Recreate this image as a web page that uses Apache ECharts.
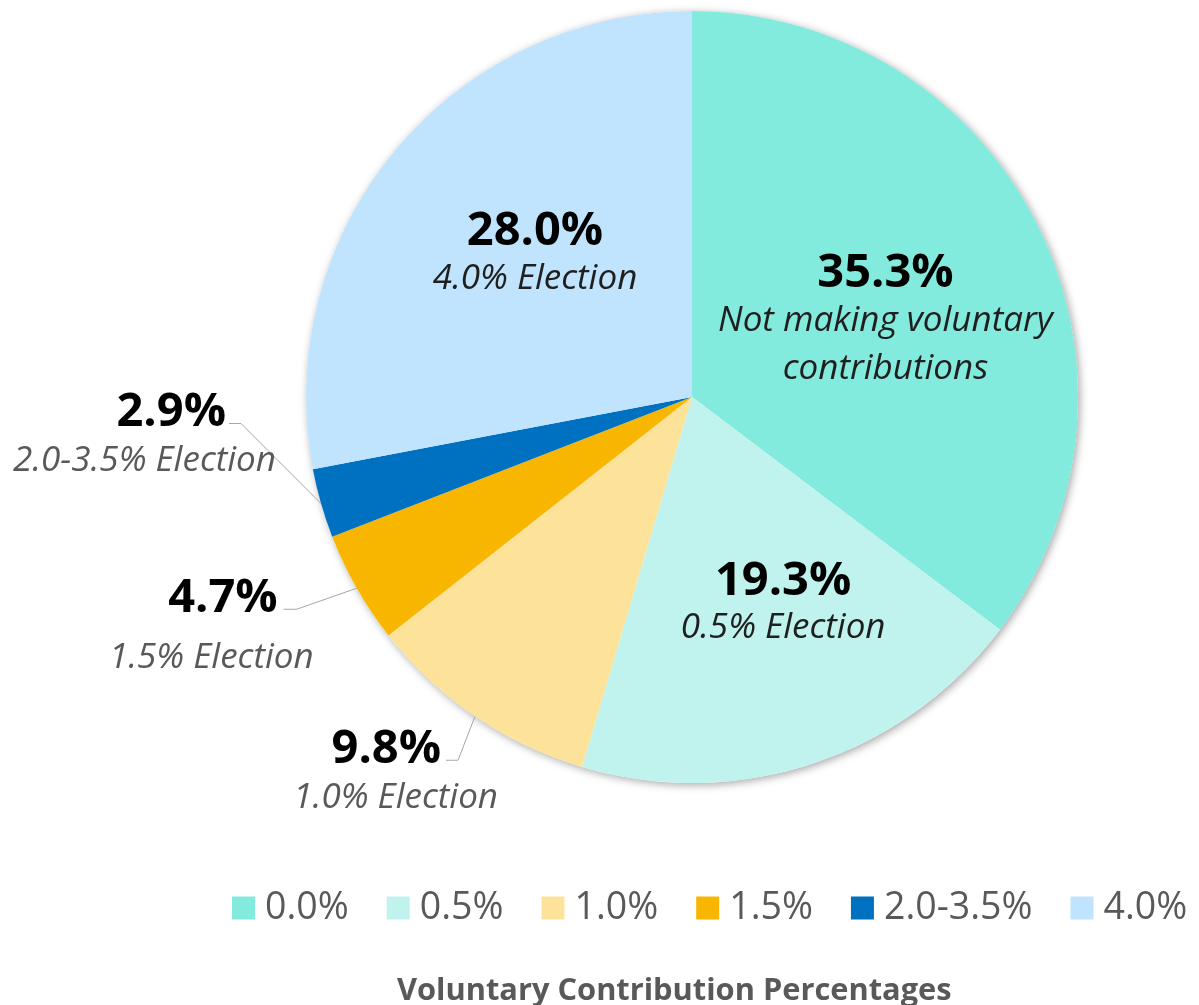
<!DOCTYPE html>
<html>
<head>
<meta charset="utf-8">
<script src="https://cdn.jsdelivr.net/npm/echarts@6/dist/echarts.min.js"></script>
<style>
  html, body { margin: 0; padding: 0; background: #ffffff; }
  #chart { width: 1199px; height: 1005px; }
</style>
</head>
<body>
<div id="chart"></div>
<script>
// ---- data ----
const categories = ['0.0%', '0.5%', '1.0%', '1.5%', '2.0-3.5%', '4.0%'];
const shares = [35.3, 19.3, 9.8, 4.7, 2.9, 28.0];
const shareLabels = ['35.3%', '19.3%', '9.8%', '4.7%', '2.9%', '28.0%'];
const descriptions = ['Not making voluntary\ncontributions', '0.5% Election', '1.0% Election', '1.5% Election', '2.0-3.5% Election', '4.0% Election'];
const chartTitle = 'Voluntary Contribution Percentages';

// ---- styling ----
const colors = ['#83EBDD', '#C1F3EE', '#FDE29A', '#F8B600', '#0070C0', '#C0E4FD'];
const FONT = "'Open Sans', 'Noto Sans', sans-serif";
const outsideIdx = [2, 3, 4];
// per-label placement tweaks (relative to library-computed anchors)
const insideShift = { 0: [18, 12], 1: [30, 22], 5: [-6, -16] };
const outsideShape = {
  2: { elbow: [-17, 44], end: [-29, 44], key: 'p98', sub: 'so', right: 52 },
  3: { elbow: [-60, 21], end: [-73, 21], key: 'p47', sub: 'so47', right: 30 },
  4: { elbow: [-80, -80], end: [-92, -80], key: 'p29', sub: 'so', right: 47 }
};

const chart = echarts.init(document.getElementById('chart'), null, { renderer: 'canvas' });

const pieData = categories.map((c, i) => {
  const item = { name: c, value: shares[i], itemStyle: { color: colors[i] } };
  if (outsideIdx.indexOf(i) >= 0) {
    item.label = { position: 'outside' };
    item.labelLine = { show: true };
  }
  return item;
});

const boldStyle = { fontFamily: FONT, fontSize: 47, fontWeight: 'bold', color: '#000000', lineHeight: 46 };

const option = {
  backgroundColor: '#ffffff',
  animation: false,
  title: {
    text: chartTitle,
    left: 397,
    top: 976,
    padding: 0,
    textStyle: { fontFamily: FONT, fontSize: 30.8, fontWeight: 'bold', color: '#595959' }
  },
  legend: {
    data: categories,
    left: 232,
    top: 889,
    width: 967,
    padding: 0,
    icon: 'rect',
    itemWidth: 23,
    itemHeight: 23,
    itemGap: 38,
    selectedMode: false,
    textStyle: { fontFamily: FONT, fontSize: 37.5, fontWeight: 'normal', color: '#595959', lineHeight: 38, padding: [0, 0, 0, 5] }
  },
  series: [
    {
      type: 'pie',
      silent: true,
      z: 1,
      center: [692, 397],
      radius: 386,
      label: { show: false },
      labelLine: { show: false },
      itemStyle: { color: '#ffffff', shadowBlur: 8, shadowColor: 'rgba(0,0,0,0.35)', shadowOffsetX: 2, shadowOffsetY: 2 },
      data: [{ value: shares.reduce((a, b) => a + b, 0), name: '' }]
    },
    {
      type: 'pie',
      z: 2,
      center: [692, 397],
      radius: 386,
      startAngle: 90,
      clockwise: true,
      avoidLabelOverlap: false,
      data: pieData,
      itemStyle: { borderWidth: 0 },
      labelLine: { show: false, length: 20, length2: 10, lineStyle: { color: '#A6A6A6', width: 1 } },
      label: {
        show: true,
        position: 'inside',
        formatter: function (p) {
          const i = p.dataIndex;
          if (outsideShape[i]) {
            return '{' + outsideShape[i].key + '|' + shareLabels[i] + '}\n{' + outsideShape[i].sub + '|' + descriptions[i] + '}';
          }
          return '{p|' + shareLabels[i] + '}\n{si|' + descriptions[i] + '}';
        },
        rich: {
          p: boldStyle,
          p98: Object.assign({}, boldStyle, { padding: [0, 57, 0, 0] }),
          p47: Object.assign({}, boldStyle, { padding: [0, 36, 0, 0] }),
          p29: Object.assign({}, boldStyle, { padding: [0, 50, 0, 0] }),
          si: { fontFamily: FONT, fontSize: 35, fontStyle: 'italic', color: '#1f1f1f', lineHeight: 48 },
          so: { fontFamily: FONT, fontSize: 35, fontStyle: 'italic', color: '#595959', lineHeight: 52 },
          so47: { fontFamily: FONT, fontSize: 35, fontStyle: 'italic', color: '#595959', lineHeight: 74 }
        }
      },
      labelLayout: function (p) {
        const i = p.dataIndex;
        if (outsideShape[i] && p.labelLinePoints) {
          const s = outsideShape[i];
          const e = p.labelLinePoints[0];
          const elbow = [e[0] + s.elbow[0], e[1] + s.elbow[1]];
          const end = [e[0] + s.end[0], e[1] + s.end[1]];
          return {
            x: end[0] + s.right,
            y: end[1] - 34,
            align: 'right',
            verticalAlign: 'top',
            labelLinePoints: [[e[0], e[1]], elbow, end]
          };
        }
        if (insideShift[i]) {
          return { dx: insideShift[i][0], dy: insideShift[i][1] };
        }
      }
    }
  ]
};

chart.setOption(option);
</script>
</body>
</html>
